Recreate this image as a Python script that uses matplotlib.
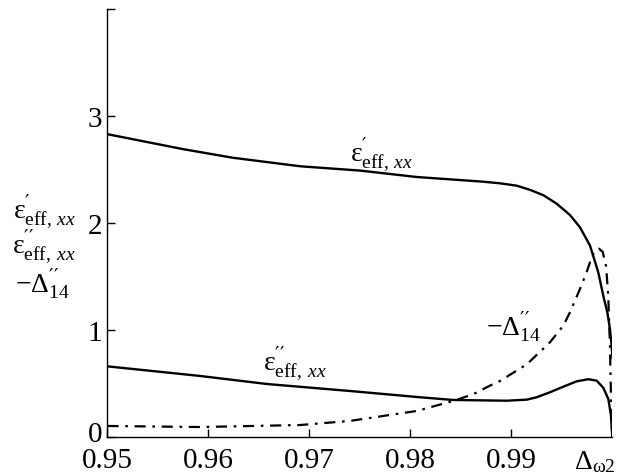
import matplotlib
matplotlib.use("Agg")
import matplotlib.pyplot as plt
from matplotlib.transforms import ScaledTranslation

plt.rcParams["mathtext.fontset"] = "custom"
plt.rcParams["mathtext.rm"] = "Liberation Serif"
plt.rcParams["mathtext.it"] = "Liberation Serif:italic"
plt.rcParams["mathtext.bf"] = "Liberation Serif:bold"
plt.rcParams["mathtext.sf"] = "DejaVu Sans"
plt.rcParams["font.family"] = ["Liberation Serif", "DejaVu Serif"]

# Real part of the effective permittivity
eps1_x = [0.95, 0.9575, 0.9624, 0.9691, 0.975, 0.9806, 0.98721, 0.98886, 0.99051,
          0.99183, 0.99315, 0.99448, 0.99579, 0.99678, 0.99777, 0.9981, 0.99859,
          0.99909, 0.99949, 0.99975, 0.99992, 1.0]
eps1_y = [2.83, 2.69, 2.61, 2.53, 2.49, 2.43, 2.386, 2.371, 2.349,
          2.31, 2.26, 2.18, 2.075, 1.96, 1.79, 1.69, 1.54,
          1.32, 1.165, 1.01, 0.85, 0.73]

# Imaginary part of the effective permittivity
eps2_x = [0.95, 0.9592, 0.9658, 0.974, 0.9806, 0.9842, 0.98953, 0.99151, 0.99249,
          0.99381, 0.99513, 0.99645, 0.9976, 0.99844, 0.99909, 0.99959, 0.99985,
          0.99998]
eps2_y = [0.66, 0.57, 0.495, 0.43, 0.374, 0.346, 0.339, 0.349, 0.371,
          0.418, 0.47, 0.52, 0.54, 0.526, 0.46, 0.355, 0.20,
          0.0]

# -Delta''_14
d14_x = [0.95, 0.9592, 0.9691, 0.974, 0.9806, 0.98421, 0.98622, 0.98787, 0.98886,
         0.99153, 0.99381, 0.99513, 0.99579, 0.99678, 0.99744, 0.99794, 0.99827,
         0.99866, 0.99903, 0.99936, 0.99958, 0.99975, 0.99985, 0.99995]
d14_y = [0.103, 0.093, 0.112, 0.15, 0.243, 0.336, 0.40, 0.48, 0.523,
         0.68, 0.885, 1.04, 1.165, 1.383, 1.54, 1.68, 1.74,
         1.76, 1.73, 1.60, 1.32, 0.85, 0.39, 0.0]

x_ticks = [0.95, 0.96, 0.97, 0.98, 0.99]
x_tick_labels = ["0.95", "0.96", "0.97", "0.98", "0.99"]
y_ticks = [0, 1, 2, 3, 4]
y_tick_labels = ["0", "1", "2", "3", ""]

fig = plt.figure(figsize=(6.22, 4.77), dpi=100)
ax = fig.add_axes([0.1728, 0.0818, 0.8119, 0.8972])

ax.plot(eps1_x, eps1_y, color="black", lw=1.7, solid_capstyle="butt",
        solid_joinstyle="round")
ax.plot(eps2_x, eps2_y, color="black", lw=1.7, solid_capstyle="butt",
        solid_joinstyle="round")
ax.plot(d14_x, d14_y, color="black", lw=1.6, linestyle=(0, (5, 3, 1.2, 3)))

ax.set_xlim(0.95, 1.0)
ax.set_ylim(0, 4)
ax.set_xticks(x_ticks)
ax.set_xticklabels(x_tick_labels)
ax.set_yticks(y_ticks)
ax.set_yticklabels(y_tick_labels)
ax.tick_params(direction="in", length=6, width=1, labelsize=21)
ax.tick_params(axis="x", pad=7)
ax.tick_params(axis="y", pad=4)
for s in ("top", "right"):
    ax.spines[s].set_visible(False)
for s in ("left", "bottom"):
    ax.spines[s].set_linewidth(1.0)

# lift the "0" a little so it clears the first x tick label
zero_lbl = ax.get_yticklabels()[0]
zero_lbl.set_transform(zero_lbl.get_transform()
                       + ScaledTranslation(0, 4 / 72, fig.dpi_scale_trans))

fs = 20
eps1_lbl = r"$\mathrm{ε}^{\mathsf{\prime}}_{\mathrm{eff},\,xx}$"
eps2_lbl = r"$\mathrm{ε}^{\mathsf{\prime\prime}}_{\mathrm{eff},\;xx}$"
d14_lbl = r"$-\Delta^{\mathsf{\prime\prime}}_{14}$"

ax.text(0.9771, 2.65, eps1_lbl, fontsize=fs, ha="center", va="center")
ax.text(0.9686, 0.70, eps2_lbl, fontsize=fs, ha="center", va="center")
ax.text(0.9902, 1.04, d14_lbl, fontsize=fs, ha="center", va="center")

# x-axis variable in place of the last tick label
fig.text(595 / 622, 1 - 462 / 477, r"$\Delta_{\mathrm{ω}2}$", fontsize=fs,
         ha="center", va="center")

# stacked y-axis label
fig.text(13 / 622, 1 - 211 / 477, eps1_lbl, fontsize=fs, ha="left", va="center")
fig.text(12 / 622, 1 - 246 / 477, eps2_lbl, fontsize=fs, ha="left", va="center")
fig.text(15 / 622, 1 - 284 / 477, d14_lbl, fontsize=fs, ha="left", va="center")

fig.savefig("out.png", dpi=100)
